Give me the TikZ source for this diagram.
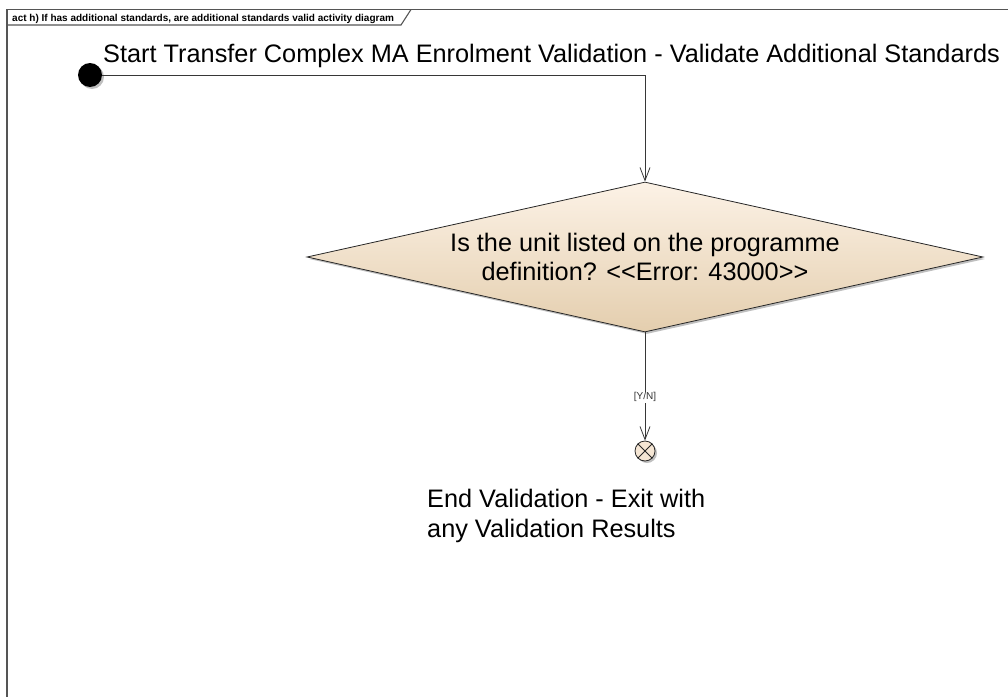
\documentclass[tikz,border=0pt]{standalone}
\usepackage{fontspec}
\setmainfont{Liberation Sans}
\usetikzlibrary{arrows.meta, positioning, shapes.geometric, shadows}

\definecolor{decisiontop}{RGB}{252,242,230}
\definecolor{decisionbot}{RGB}{228,206,174}
\definecolor{finalfill}{RGB}{245,230,212}
\definecolor{linegray}{RGB}{55,55,55}
\definecolor{framegray}{RGB}{85,85,85}

\begin{document}
\begin{tikzpicture}[x=1pt, y=-1pt,
    frame/.style={draw=framegray, line width=1.1pt},
    tabtext/.style={font=\fontsize{10}{11}\selectfont\bfseries, inner sep=0pt, anchor=base west},
    bigtext/.style={font=\fontsize{25.3}{29.5}\selectfont, inner sep=0pt},
    softshadow/.style={drop shadow={shadow xshift=2pt, shadow yshift=-2pt, opacity=0.25, fill=black}},
    initial/.style={circle, fill=black, minimum size=24pt, inner sep=0pt, softshadow},
    decision/.style={diamond, draw=black!85, line width=0.8pt, top color=decisiontop, bottom color=decisionbot, minimum width=676pt, minimum height=150pt, aspect=4.5, inner sep=0pt, align=center, font=\fontsize{25.3}{29.5}\selectfont, softshadow},
    final/.style={circle, draw=black!85, line width=0.8pt, fill=finalfill, minimum size=20pt, inner sep=0pt, softshadow},
    flow/.style={-{Straight Barb[length=13pt, width=10pt]}, draw=linegray, line width=0.8pt},
    guard/.style={font=\fontsize{10}{11}\selectfont, fill=white, inner sep=1pt, text=black!80}
  ]
    \useasboundingbox (0,0) rectangle (1008,696);

    % diagram frame with its name tab
    \draw[frame] (7,9.5) rectangle (1040,720);
    \draw[frame] (7,25) -- (401,25) -- (411,9.5);
    \node[tabtext] (title) at (12,21) {act h) If has additional standards, are additional standards valid activity diagram};

    \node[initial] (start) at (90,75) {};
    \node[bigtext, anchor=base west] (startlabel) at (103,62) {Start Transfer Complex MA Enrolment Validation - Validate Additional Standards};
    \node[decision] (unitlisted) at (645,257) {Is the unit listed on the programme\\ definition? <\kern0pt<Error: 43000>\kern0pt>};
    \node[final] (finish) at (645,451) {};
    \draw[draw=black!85, line width=0.8pt] (finish.north east) -- (finish.south west) (finish.north west) -- (finish.south east);
    \node[bigtext, anchor=north west, align=left] (endlabel) at (427,489) {End Validation - Exit with\\ any Validation Results};

    \draw[flow] (start) -| (unitlisted);
    \draw[flow] (unitlisted) -- node[guard, pos=0.6] {[Y/N]} (finish);
  \end{tikzpicture}
\end{document}
